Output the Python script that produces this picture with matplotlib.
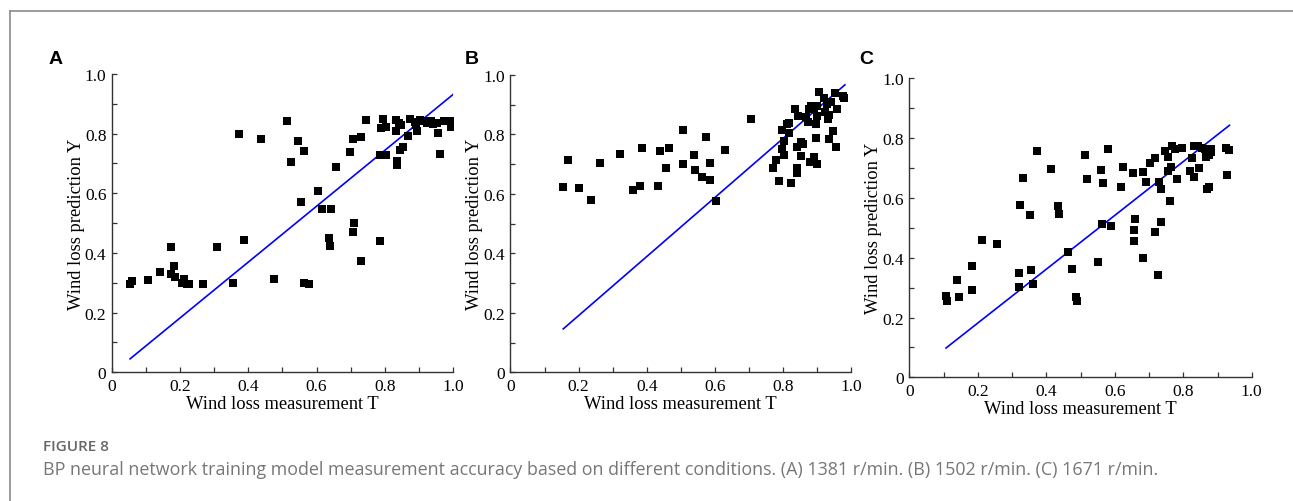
import matplotlib.pyplot as plt
import numpy as np
from matplotlib.lines import Line2D
from matplotlib.ticker import MultipleLocator, FixedLocator, FixedFormatter

plt.rcParams['font.family'] = 'serif'
plt.rcParams['font.serif'] = ['Liberation Serif']

# panel A: 1381 r/min
a_T = [0.053, 0.058, 0.106, 0.142, 0.173, 0.173, 0.183, 0.186, 0.204, 0.211,
       0.219, 0.226, 0.268, 0.309, 0.354, 0.373, 0.386, 0.436, 0.474, 0.513,
       0.525, 0.547, 0.554, 0.564, 0.563, 0.578, 0.605, 0.615, 0.642, 0.636,
       0.639, 0.656, 0.698, 0.707, 0.709, 0.707, 0.729, 0.729, 0.746, 0.787,
       0.790, 0.794, 0.787, 0.805, 0.805, 0.833, 0.833, 0.842, 0.849, 0.837,
       0.837, 0.844, 0.854, 0.868, 0.875, 0.888, 0.896, 0.902, 0.912, 0.924,
       0.936, 0.941, 0.953, 0.956, 0.961, 0.975, 0.992, 0.995, 0.893]
a_Y = [0.296, 0.305, 0.311, 0.335, 0.419, 0.328, 0.356, 0.321, 0.299, 0.313,
       0.296, 0.296, 0.296, 0.419, 0.301, 0.798, 0.442, 0.782, 0.313, 0.844,
       0.704, 0.774, 0.572, 0.741, 0.299, 0.296, 0.607, 0.546, 0.549, 0.450,
       0.423, 0.687, 0.739, 0.782, 0.502, 0.469, 0.788, 0.372, 0.847, 0.439,
       0.819, 0.848, 0.728, 0.728, 0.823, 0.847, 0.810, 0.836, 0.828, 0.709,
       0.695, 0.746, 0.755, 0.791, 0.848, 0.840, 0.810, 0.846, 0.844, 0.836,
       0.844, 0.831, 0.836, 0.801, 0.732, 0.841, 0.844, 0.823, 0.830]
a_fit_T = [0.053, 1.0]
a_fit_Y = [0.045, 0.931]

# panel B: 1502 r/min
b_T = [0.155, 0.170, 0.201, 0.236, 0.262, 0.321, 0.361, 0.379, 0.386, 0.433,
       0.438, 0.456, 0.465, 0.506, 0.507, 0.540, 0.543, 0.561, 0.573, 0.586,
       0.586, 0.602, 0.631, 0.707,
       0.798, 0.812, 0.819, 0.817, 0.804, 0.798, 0.804, 0.779, 0.771, 0.788,
       0.825, 0.835, 0.845, 0.842, 0.852, 0.859, 0.854, 0.840, 0.842, 0.869,
       0.876, 0.883, 0.891, 0.900, 0.873, 0.898, 0.900, 0.896, 0.878, 0.891,
       0.900, 0.907, 0.922, 0.930, 0.923, 0.932, 0.936, 0.942, 0.952, 0.960,
       0.946, 0.935, 0.957, 0.975, 0.980]
b_Y = [0.623, 0.715, 0.621, 0.581, 0.703, 0.735, 0.614, 0.626, 0.753, 0.627,
       0.743, 0.687, 0.754, 0.701, 0.816, 0.730, 0.682, 0.658, 0.793, 0.703,
       0.648, 0.575, 0.748, 0.852,
       0.816, 0.835, 0.838, 0.805, 0.779, 0.751, 0.731, 0.715, 0.687, 0.645,
       0.637, 0.884, 0.861, 0.757, 0.774, 0.768, 0.726, 0.686, 0.672, 0.858,
       0.886, 0.895, 0.888, 0.897, 0.842, 0.835, 0.863, 0.787, 0.706, 0.723,
       0.701, 0.942, 0.922, 0.903, 0.875, 0.852, 0.866, 0.910, 0.939, 0.886,
       0.810, 0.786, 0.757, 0.928, 0.922]
b_fit_T = [0.155, 0.982]
b_fit_Y = [0.146, 0.967]

# panel C: 1671 r/min
c_T = [0.107, 0.109, 0.138, 0.145, 0.183, 0.183, 0.212, 0.255, 0.320, 0.320,
       0.322, 0.332, 0.352, 0.355, 0.360, 0.372, 0.414, 0.434, 0.438, 0.463,
       0.475, 0.488, 0.490, 0.514, 0.519, 0.551, 0.561, 0.564, 0.566, 0.579,
       0.589, 0.619, 0.624, 0.654, 0.659, 0.656, 0.656, 0.681, 0.682, 0.690,
       0.703, 0.716, 0.716, 0.727, 0.730, 0.734, 0.736, 0.746, 0.754, 0.755,
       0.761, 0.764, 0.768, 0.776, 0.781, 0.797, 0.820, 0.825, 0.830, 0.832,
       0.842, 0.847, 0.854, 0.866, 0.870, 0.876, 0.876, 0.880, 0.880, 0.924,
       0.929, 0.934, 0.864]
c_Y = [0.271, 0.255, 0.327, 0.268, 0.372, 0.293, 0.459, 0.445, 0.349, 0.303,
       0.575, 0.667, 0.544, 0.360, 0.313, 0.756, 0.696, 0.572, 0.545, 0.419,
       0.363, 0.270, 0.256, 0.745, 0.663, 0.386, 0.695, 0.514, 0.649, 0.764,
       0.507, 0.637, 0.705, 0.682, 0.531, 0.494, 0.457, 0.685, 0.399, 0.654,
       0.716, 0.734, 0.486, 0.343, 0.654, 0.630, 0.518, 0.758, 0.738, 0.689,
       0.591, 0.702, 0.773, 0.764, 0.663, 0.767, 0.691, 0.732, 0.773, 0.669,
       0.775, 0.699, 0.766, 0.736, 0.630, 0.635, 0.744, 0.764, 0.752, 0.766,
       0.678, 0.759, 0.764]
c_fit_T = [0.107, 0.935]
c_fit_Y = [0.098, 0.843]

tick_vals = [0, 0.2, 0.4, 0.6, 0.8, 1.0]
tick_text = ['0', '0.2', '0.4', '0.6', '0.8', '1.0']

fig = plt.figure(figsize=(12.93, 5.02), dpi=100)

panels = [
    ([0.0866, 0.2564, 0.2637, 0.5942], a_T, a_Y, a_fit_T, a_fit_Y, 'A', 56),
    ([0.3948, 0.2564, 0.2634, 0.5922], b_T, b_Y, b_fit_T, b_fit_Y, 'B', 472),
    ([0.7033, 0.2464, 0.2648, 0.5956], c_T, c_Y, c_fit_T, c_fit_Y, 'C', 866),
]

for rect, T, Y, fT, fY, letter, lx in panels:
    ax = fig.add_axes(rect)
    ax.scatter(T, Y, marker='s', s=34, color='black', linewidths=0, zorder=3)
    ax.plot(fT, fY, color='#0000ff', lw=1.2, zorder=2)
    ax.set_xlim(0, 1)
    ax.set_ylim(0, 1)
    for side in ['top', 'right']:
        ax.spines[side].set_visible(False)
    for side in ['left', 'bottom']:
        ax.spines[side].set_color('#333333')
        ax.spines[side].set_linewidth(1.0)
    for axis in [ax.xaxis, ax.yaxis]:
        axis.set_major_locator(FixedLocator(tick_vals))
        axis.set_major_formatter(FixedFormatter(tick_text))
        axis.set_minor_locator(MultipleLocator(0.1))
    ax.tick_params(which='both', direction='in', length=3.5, width=0.9,
                   color='#333333', labelsize=12.5, pad=4)
    ax.set_xlabel('Wind loss measurement T', fontsize=13.3, labelpad=1)
    ax.set_ylabel('Wind loss prediction Y', fontsize=13.3, labelpad=0)
    fig.text(lx / 1293, 1 - 60 / 502, letter, fontfamily='Liberation Sans',
             fontweight='bold', fontsize=14, ha='center', va='center')

# frame around figure
fig.add_artist(Line2D([9.5 / 1293, 9.5 / 1293], [0, 1 - 12 / 502],
                      color='#8a8a8a', lw=1.2, transform=fig.transFigure))
fig.add_artist(Line2D([9.5 / 1293, 1], [1 - 12 / 502, 1 - 12 / 502],
                      color='#8a8a8a', lw=1.2, transform=fig.transFigure))

fig.text(43 / 1293, 1 - 447 / 502, 'FIGURE 8', fontfamily='Open Sans',
         fontweight='semibold', fontsize=11, color='#666666', va='center')
fig.text(43 / 1293, 1 - 470 / 502,
         'BP neural network training model measurement accuracy based on different '
         'conditions. (A) 1381 r/min. (B) 1502 r/min. (C) 1671 r/min.',
         fontfamily='Open Sans', fontsize=12.9, color='#777777', va='center')

fig.savefig('out.png', dpi=100)
